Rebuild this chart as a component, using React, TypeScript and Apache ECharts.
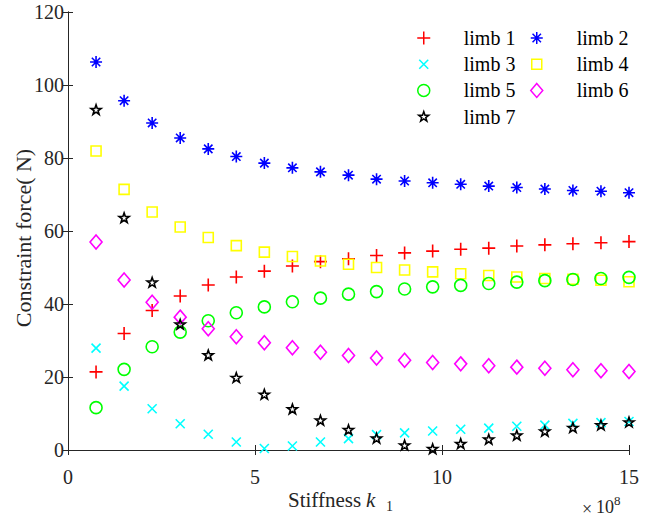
import React, { useEffect, useRef } from "react";
import * as echarts from "echarts";

const xValues = [0.75, 1.5, 2.25, 3, 3.75, 4.5, 5.25, 6, 6.75, 7.5, 8.25, 9, 9.75, 10.5, 11.25, 12, 12.75, 13.5, 14.25, 15];

const limb1 = [21.4, 31.9, 38.2, 42.2, 45.2, 47.4, 49.0, 50.4, 51.6, 52.4, 53.3, 54.0, 54.5, 55.0, 55.3, 55.9, 56.2, 56.5, 56.8, 57.1];
const limb2 = [106.3, 95.7, 89.6, 85.5, 82.5, 80.4, 78.6, 77.3, 76.2, 75.3, 74.2, 73.7, 73.2, 72.8, 72.3, 71.9, 71.5, 71.1, 70.9, 70.5];
const limb3 = [27.9, 17.5, 11.3, 7.2, 4.3, 2.2, 0.4, 1.1, 2.2, 3.1, 4.2, 4.7, 5.2, 5.7, 6.0, 6.5, 6.8, 7.3, 7.5, 7.8];
const limb4 = [81.9, 71.4, 65.2, 61.1, 58.2, 56.0, 54.2, 53.0, 51.8, 50.9, 50.0, 49.3, 48.8, 48.3, 47.8, 47.4, 47.0, 46.8, 46.5, 46.1];
const limb5 = [11.6, 22.1, 28.3, 32.3, 35.4, 37.6, 39.2, 40.6, 41.6, 42.7, 43.4, 44.1, 44.7, 45.1, 45.6, 46.0, 46.4, 46.7, 47.0, 47.3];
const limb6 = [57.0, 46.6, 40.5, 36.4, 33.2, 31.0, 29.4, 28.0, 26.8, 25.9, 25.2, 24.6, 24.0, 23.6, 23.1, 22.7, 22.4, 22.0, 21.7, 21.5];
const limb7 = [93.2, 63.6, 45.9, 34.4, 26.0, 19.8, 15.2, 11.2, 8.1, 5.5, 3.2, 1.3, 0.3, 1.7, 2.9, 4.0, 5.1, 6.1, 6.8, 7.6];

const seriesNames = ["limb 1", "limb 2", "limb 3", "limb 4", "limb 5", "limb 6", "limb 7"];
const seriesValues = [limb1, limb2, limb3, limb4, limb5, limb6, limb7];
const seriesColors = ["#ff0000", "#0000ff", "#00ffff", "#ffff00", "#00ff00", "#ff00ff", "#000000"];

const xTicks = { min: 0, max: 15, interval: 5 };
const yTicks = { min: 0, max: 120, interval: 20 };

// symbols drawn in a 16x16 frame (the leading moves fix the frame size)
const FRAME = "M0 0M16 16";
const symbols = [
  "path://" + FRAME + "M8 1.5L8 14.5M1.5 8L14.5 8",
  "path://" + FRAME + "M8 2L8 14M2 8L14 8M3.8 3.8L12.2 12.2M12.2 3.8L3.8 12.2",
  "path://" + FRAME + "M3.5 3.5L12.5 12.5M12.5 3.5L3.5 12.5",
  "path://" + FRAME + "M3 3L13 3L13 13L3 13Z",
  "path://" + FRAME + "M2 8A6 6 0 1 1 14 8A6 6 0 1 1 2 8Z",
  "path://" + FRAME + "M8 1L14 8L8 15L2 8Z",
  "path://" + FRAME + "M8 3L9.23 6.6L13.04 6.66L10 8.95L11.12 12.59L8 10.4L4.88 12.59L6 8.95L2.96 6.66L6.77 6.6Z",
];

const FONT = "Liberation Serif";

export default function App() {
  const ref = useRef<HTMLDivElement>(null);
  useEffect(() => {
    if (!ref.current) return;
    const chart = echarts.init(ref.current, undefined, { renderer: "svg" });
    const axisLine = { show: true, lineStyle: { color: "#262626", width: 1 } };
    const legendItem = (i: number) => ({
      name: seriesNames[i],
      icon: symbols[i],
      itemStyle: { color: "transparent", borderColor: seriesColors[i], borderWidth: 1.5 },
    });
    const legendBase = {
      orient: "vertical",
      top: 28,
      itemWidth: 70,
      itemHeight: 16,
      itemGap: 6.2,
      padding: 0,
      selectedMode: false,
      textStyle: { fontFamily: FONT, fontSize: 20, color: "#000", lineHeight: 16 },
    };
    chart.setOption({
      animation: false,
      backgroundColor: "#fff",
      grid: { left: 68, top: 12, width: 561, height: 438, containLabel: false },
      xAxis: [
        {
          type: "value", position: "bottom", ...xTicks,
          axisLine, splitLine: { show: false },
          axisTick: { show: true, inside: true, length: 5, lineStyle: { color: "#262626" } },
          axisLabel: { fontFamily: FONT, fontSize: 20, color: "#262626", margin: 17 },
        },
        {
          type: "value", position: "top", ...xTicks,
          axisLine, splitLine: { show: false },
          axisTick: { show: true, inside: true, length: 5, lineStyle: { color: "#262626" } },
          axisLabel: { show: false },
        },
      ],
      yAxis: [
        {
          type: "value", position: "left", ...yTicks,
          axisLine, splitLine: { show: false },
          axisTick: { show: true, inside: true, length: 5, lineStyle: { color: "#262626" } },
          axisLabel: { fontFamily: FONT, fontSize: 20, color: "#262626", margin: 4 },
        },
        {
          type: "value", position: "right", ...yTicks,
          axisLine, splitLine: { show: false },
          axisTick: { show: true, inside: true, length: 5, lineStyle: { color: "#262626" } },
          axisLabel: { show: false },
        },
      ],
      legend: [
        { ...legendBase, left: 415, data: [0, 2, 4, 6].map(legendItem) },
        { ...legendBase, left: 528, data: [1, 3, 5].map(legendItem) },
      ],
      series: seriesNames.map((name, i) => ({
        type: "scatter",
        name,
        xAxisIndex: 0,
        yAxisIndex: 0,
        symbol: symbols[i],
        symbolSize: 16,
        clip: false,
        itemStyle: { color: "transparent", borderColor: seriesColors[i], borderWidth: 1.6, opacity: 1 },
        data: xValues.map((x, j) => [x, seriesValues[i][j]]),
      })),
      graphic: [
        {
          type: "text", x: 23, y: 238, rotation: Math.PI / 2,
          style: { text: "Constraint force( N)", fontFamily: FONT, fontSize: 22, fill: "#262626", align: "center", verticalAlign: "middle" },
        },
        {
          type: "text", x: 288, y: 500,
          style: { text: "Stiffness", fontFamily: FONT, fontSize: 21, fill: "#262626", align: "left", verticalAlign: "middle" },
        },
        {
          type: "text", x: 366, y: 500,
          style: { text: "k", fontFamily: FONT, fontSize: 21, fontStyle: "italic", fill: "#262626", align: "left", verticalAlign: "middle" },
        },
        {
          type: "text", x: 386, y: 506,
          style: { text: "1", fontFamily: FONT, fontSize: 14, fill: "#262626", align: "left", verticalAlign: "middle" },
        },
        {
          type: "text", x: 582, y: 509,
          style: { text: "×", fontFamily: FONT, fontSize: 18, fill: "#262626", align: "left", verticalAlign: "middle" },
        },
        {
          type: "text", x: 596, y: 507,
          style: { text: "10", fontFamily: FONT, fontSize: 18, fill: "#262626", align: "left", verticalAlign: "middle" },
        },
        {
          type: "text", x: 614, y: 500,
          style: { text: "8", fontFamily: FONT, fontSize: 13, fill: "#262626", align: "left", verticalAlign: "middle" },
        },
      ],
    });
    return () => chart.dispose();
  }, []);
  return <div ref={ref} style={{ position: "fixed", left: 0, top: 0, width: 646, height: 520 }} />;
}
